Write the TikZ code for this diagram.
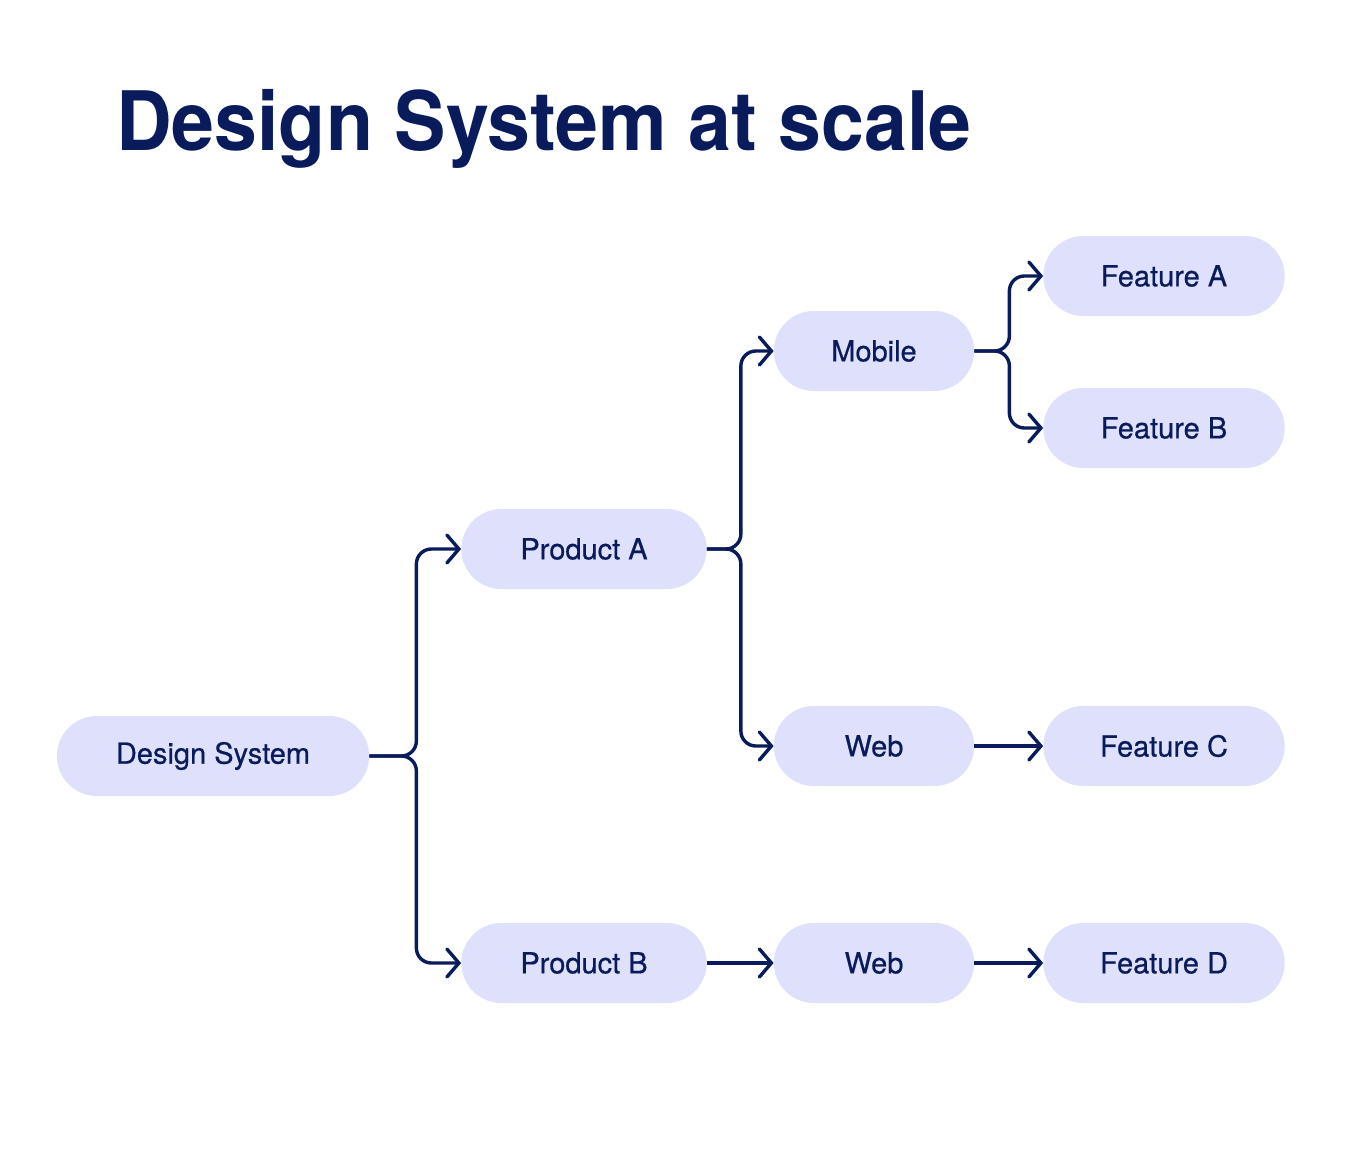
\documentclass[tikz,border=0pt]{standalone}
\usepackage{fontspec}
\setmainfont{TeX Gyre Heros}
\usetikzlibrary{positioning,shapes.misc,arrows.meta}
\definecolor{navy}{RGB}{10,27,92}
\definecolor{pillfill}{RGB}{222,224,252}

\begin{document}
\begin{tikzpicture}[x=1pt,y=-1pt,on grid,
    pill/.style={rounded rectangle,fill=pillfill,minimum height=80pt,
      text=navy,font=\fontsize{29}{34}\selectfont\addfontfeature{FakeBold=0.6}},
    link/.style={draw=navy,line width=3.4pt,rounded corners=15pt,
      -{Straight Barb[length=12pt,width=28pt,line width=3.4pt,line cap=round]}}]
  \useasboundingbox (0,0) rectangle (1358,1156);
  \node[anchor=base west,text=navy,inner sep=0pt,
    font=\fontsize{82}{90}\selectfont\bfseries] (title) at (116,150)
    {\scalebox{0.94}[1]{Design System at scale}};

  \node[pill, minimum width=319pt] (ds) at (213,756) {Design System};
  \node[pill, minimum width=252pt] (pa) [above right=207pt and 371pt of ds] {Product A};
  \node[pill, minimum width=252pt] (pb) [below right=207pt and 371pt of ds] {Product B};
  \node[pill, minimum width=207pt] (mob) [above right=198pt and 290pt of pa] {Mobile};
  \node[pill, minimum width=207pt] (weba) [below right=197pt and 290pt of pa] {Web};
  \node[pill, minimum width=207pt] (webb) [right=290pt of pb] {Web};
  \node[pill, minimum width=248pt] (fa) [above right=75pt and 290pt of mob] {Feature A};
  \node[pill, minimum width=248pt] (fb) [below right=77pt and 290pt of mob] {Feature B};
  \node[pill, minimum width=248pt] (fc) [right=290pt of weba] {Feature C};
  \node[pill, minimum width=248pt] (fd) [right=290pt of webb] {Feature D};

  % split points
  \coordinate (s1) at ([xshift=47pt]ds.east);
  \coordinate (s2) at ([xshift=34pt]pa.east);
  \coordinate (s3) at ([xshift=35pt]mob.east);

  \draw[link] (ds.east) -- (s1) |- (pa.west);
  \draw[link] (ds.east) -- (s1) |- (pb.west);
  \draw[link] (pa.east) -- (s2) |- (mob.west);
  \draw[link] (pa.east) -- (s2) |- (weba.west);
  \draw[link] (mob.east) -- (s3) |- (fa.west);
  \draw[link] (mob.east) -- (s3) |- (fb.west);
  \draw[link] (pb.east) -- (webb.west);
  \draw[link] (weba.east) -- (fc.west);
  \draw[link] (webb.east) -- (fd.west);
\end{tikzpicture}
\end{document}
